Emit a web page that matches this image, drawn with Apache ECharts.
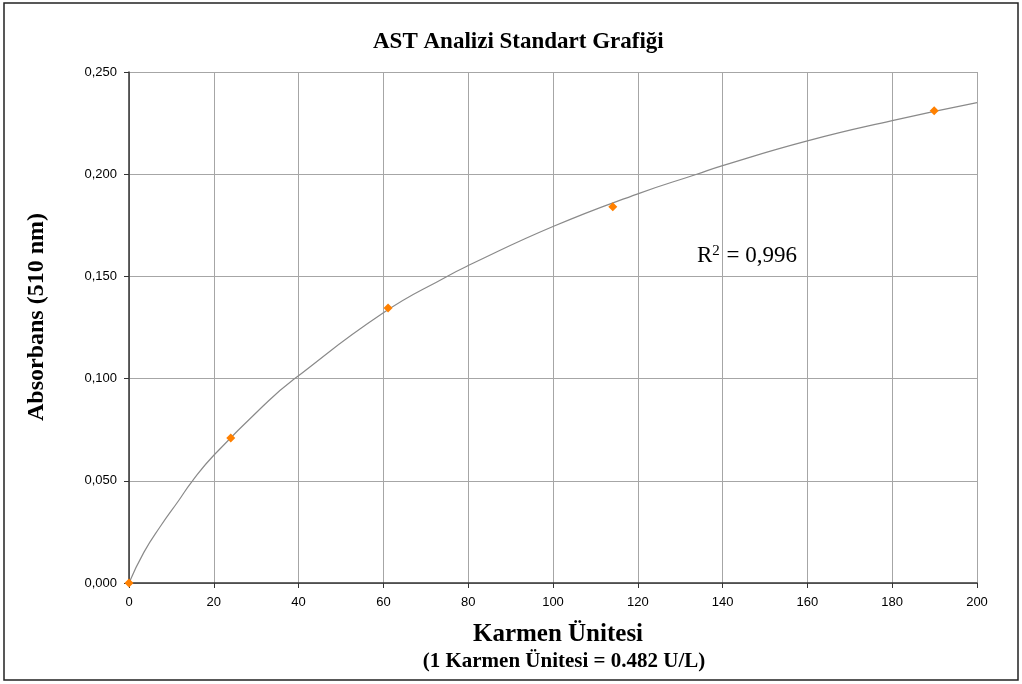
<!DOCTYPE html>
<html>
<head>
<meta charset="utf-8">
<script src="https://cdn.jsdelivr.net/npm/echarts@6/dist/echarts.min.js"></script>
<style>
html,body{margin:0;padding:0;background:#fff;}
#c{width:1022px;height:684px;}
</style>
</head>
<body>
<div id="c"></div>
<script>
// Measured standard points
var pointX = [0, 24, 61.1, 114.1, 189.9];
var pointY = [0, 0.0709, 0.1345, 0.1841, 0.2311];
// Trend line
var curveX = [0, 3.5, 7.5, 11.6, 14.8, 20, 33, 39.1, 60, 75, 80, 100, 120, 133.9, 140, 160, 180, 200];
var curveY = [0, 0.0150, 0.0280, 0.0400, 0.0495, 0.0625, 0.0893, 0.1000, 0.1322, 0.1500, 0.1553, 0.1744, 0.1904, 0.2000, 0.2042, 0.2163, 0.2262, 0.2350];
var xTicks = [0, 20, 40, 60, 80, 100, 120, 140, 160, 180, 200];
var yTicks = [0, 0.05, 0.10, 0.15, 0.20, 0.25];
var titleText = 'AST Analizi Standart Grafiği';
var xName = 'Karmen Ünitesi';
var xSub = '(1 Karmen Ünitesi = 0.482 U/L)';
var yName = 'Absorbans (510 nm)';
var r2Text = '0,996';

var chart = echarts.init(document.getElementById('c'), null, {renderer: 'canvas'});
var serif = '"Liberation Serif", "Times New Roman", serif';
var sans = '"Liberation Sans", Arial, sans-serif';

var pts = pointX.map(function (x, i) { return [x, pointY[i]]; });
var crv = curveX.map(function (x, i) { return [x, curveY[i]]; });

chart.setOption({
  animation: false,
  backgroundColor: '#fff',
  title: {
    text: titleText,
    left: 368,
    top: 26,
    textStyle: {fontFamily: serif, fontWeight: 'bold', fontSize: 23, color: '#000'}
  },
  grid: {left: 129, right: 45, top: 72, bottom: 101, containLabel: false},
  xAxis: {
    type: 'value',
    min: 0, max: 200, interval: 20,
    axisLine: {show: true, lineStyle: {color: '#333', width: 1.5}},
    axisTick: {show: true, length: 5, inside: false, lineStyle: {color: '#333'}},
    axisLabel: {
      margin: 13, color: '#000', fontFamily: sans, fontSize: 13,
      formatter: function (v) { return xTicks.indexOf(v) >= 0 ? String(v) : ''; }
    },
    splitLine: {show: true, lineStyle: {color: '#a6a6a6', width: 1}}
  },
  yAxis: {
    type: 'value',
    min: 0, max: 0.25, interval: 0.05,
    axisLine: {show: true, lineStyle: {color: '#333', width: 1.5}},
    axisTick: {show: true, length: 5, inside: false, lineStyle: {color: '#333'}},
    axisLabel: {
      margin: 12, color: '#000', fontFamily: sans, fontSize: 13,
      formatter: function (v) { return v.toFixed(3).replace('.', ','); }
    },
    splitLine: {show: true, lineStyle: {color: '#a6a6a6', width: 1}}
  },
  series: [
    {
      type: 'line',
      data: crv,
      smooth: 0.5,
      showSymbol: false,
      symbol: 'none',
      lineStyle: {color: '#8a8a8a', width: 1.2},
      z: 2
    },
    {
      type: 'scatter',
      data: pts,
      symbol: 'diamond',
      symbolSize: 9,
      itemStyle: {color: '#ff8000', opacity: 1},
      z: 3
    }
  ],
  graphic: [
    {
      type: 'rect',
      shape: {x: 4, y: 3, width: 1014, height: 677},
      style: {fill: 'none', stroke: '#222', lineWidth: 1.5},
      silent: true
    },
    {
      type: 'text',
      x: 37, y: 317,
      rotation: Math.PI / 2,
      style: {
        text: yName, fontFamily: serif, fontWeight: 'bold', fontSize: 24,
        fill: '#000', align: 'center', verticalAlign: 'middle'
      }
    },
    {
      type: 'text',
      x: 558, y: 635,
      style: {
        text: xName, fontFamily: serif, fontWeight: 'bold', fontSize: 25,
        fill: '#000', align: 'center', verticalAlign: 'middle'
      }
    },
    {
      type: 'text',
      x: 564, y: 662,
      style: {
        text: xSub, fontFamily: serif, fontWeight: 'bold', fontSize: 21,
        fill: '#000', align: 'center', verticalAlign: 'middle'
      }
    },
    {
      type: 'text',
      x: 697, y: 256,
      style: {
        text: 'R{sup|2} = ' + r2Text,
        fontFamily: serif, fontSize: 23, fill: '#000',
        align: 'left', verticalAlign: 'middle',
        rich: {
          sup: {fontFamily: serif, fontSize: 15, fill: '#000', verticalAlign: 'top', padding: [0, 1, 10, 0]}
        }
      }
    }
  ]
});
</script>
</body>
</html>
